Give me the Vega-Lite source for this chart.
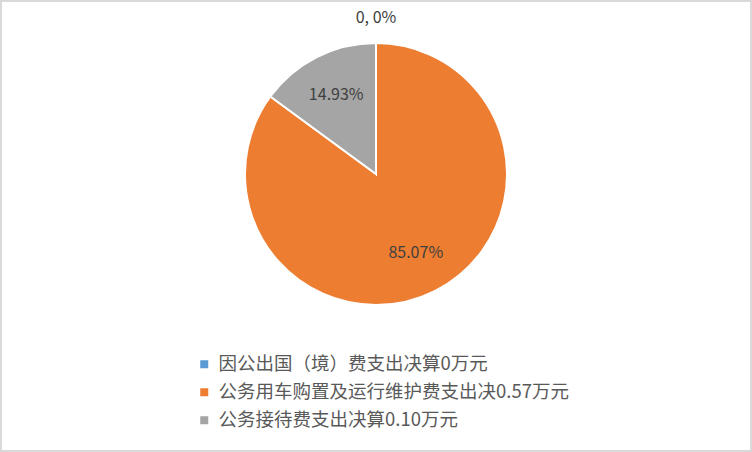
{
  "$schema": "https://vega.github.io/schema/vega-lite/v6.json",
  "description": "三公经费支出决算饼图",
  "width": 750,
  "height": 450,
  "padding": 1,
  "autosize": {"type": "none"},
  "background": "white",
  "view": {"stroke": "#d9d9d9", "strokeWidth": 2},
  "data": {
    "values": [
      {"项目": "因公出国（境）费支出决算0万元", "value": 0, "label": "0, 0%"},
      {"项目": "公务用车购置及运行维护费支出决0.57万元", "value": 0.57, "label": "85.07%"},
      {"项目": "公务接待费支出决算0.10万元", "value": 0.10, "label": "14.93%"}
    ]
  },
  "transform": [
    {"stack": "value", "groupby": [], "sort": [{"field": "value", "order": "descending"}], "as": ["v0", "v1"]},
    {"calculate": "(datum.v0 + datum.v1) / 2", "as": "mid"}
  ],
  "layer": [
    {
      "mark": {"type": "arc", "outerRadius": 131, "stroke": "white", "strokeWidth": 2, "x": {"expr": "width / 2"}, "y": {"expr": "height / 2 - 52"}},
      "encoding": {
        "theta": {"field": "v0", "type": "quantitative", "scale": {"domain": [0, 0.67]}},
        "theta2": {"field": "v1"},
        "color": {
          "field": "项目",
          "type": "nominal",
          "scale": {
            "domain": ["因公出国（境）费支出决算0万元", "公务用车购置及运行维护费支出决0.57万元", "公务接待费支出决算0.10万元"],
            "range": ["#5B9BD5", "#ED7D31", "#A5A5A5"]
          },
          "legend": {
            "title": null,
            "orient": "none",
            "legendX": 194,
            "legendY": 354,
            "symbolType": "square",
            "symbolSize": 64,
            "symbolStrokeWidth": 0,
            "labelFont": "Noto Sans CJK SC",
            "labelFontSize": 18.5,
            "labelColor": "#595959",
            "labelLimit": 500,
            "labelOffset": 5,
            "rowPadding": 9
          }
        }
      }
    },
    {
      "transform": [{"filter": "datum.value > 0"}],
      "mark": {"type": "text", "radius": 88, "font": "Noto Sans CJK SC", "fontSize": 16, "color": "#404040", "x": {"expr": "width / 2"}, "y": {"expr": "height / 2 - 52"}},
      "encoding": {
        "theta": {"field": "mid", "type": "quantitative"},
        "text": {"field": "label"}
      }
    },
    {
      "transform": [{"filter": "datum.value == 0"}],
      "mark": {"type": "text", "radius": 156, "font": "Noto Sans CJK SC", "fontSize": 16, "color": "#404040", "x": {"expr": "width / 2"}, "y": {"expr": "height / 2 - 52"}},
      "encoding": {
        "theta": {"field": "mid", "type": "quantitative"},
        "text": {"field": "label"}
      }
    }
  ]
}
